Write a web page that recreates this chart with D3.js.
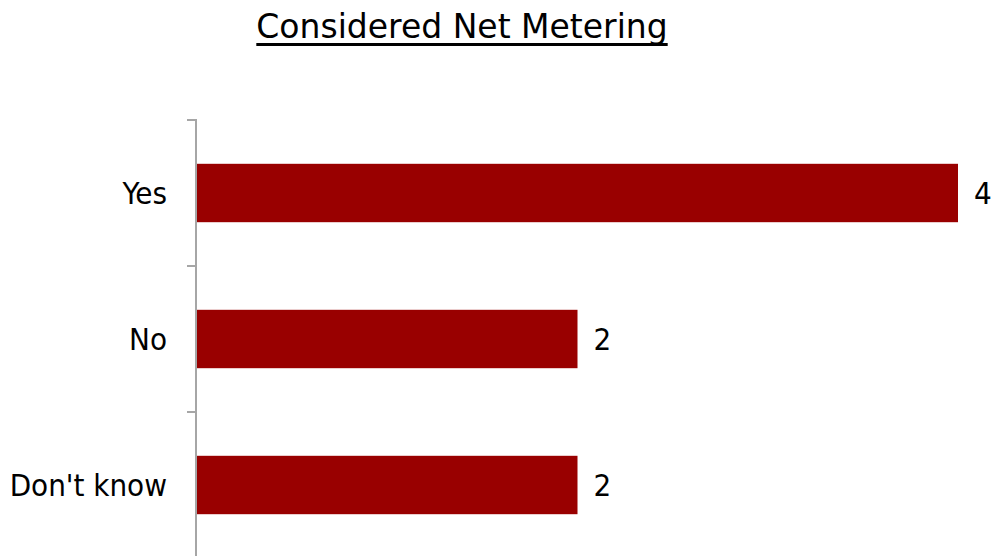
<!DOCTYPE html>
<html><head><meta charset="utf-8">
<script src="https://cdn.jsdelivr.net/npm/d3@7"></script>
<style>body{margin:0;background:#fff}svg{display:block}</style>
</head><body>
<svg id="c" width="993" height="556"></svg>
<script>
const categories = ["Yes", "No", "Don't know"];
const values = [4, 2, 2];
const title = "Considered Net Metering";

const W = 993, H = 556;
const FONT = "'DejaVu Sans Condensed', 'DejaVu Sans', sans-serif";
const TFONT = "'DejaVu Sans', sans-serif";
const svg = d3.select("#c");

const x = d3.scaleLinear().domain([0, 4]).range([197, 958]);
const y = d3.scaleBand().domain(categories).range([120, 558]).paddingInner(0.6).paddingOuter(0.3);

// title
const t = svg.append("text").attr("x", 462).attr("y", 38).attr("text-anchor", "middle")
  .attr("font-family", TFONT).attr("font-size", 33).attr("fill", "#000").text(title);
const bb = t.node().getBBox();
svg.append("rect").attr("x", bb.x).attr("y", 43).attr("width", bb.width).attr("height", 3).attr("fill", "#000");

// bars
svg.selectAll("rect.bar").data(values).join("rect").attr("class", "bar")
  .attr("x", x(0)).attr("y", (d, i) => y(categories[i]))
  .attr("width", d => x(d) - x(0)).attr("height", y.bandwidth())
  .attr("fill", "#990000");

// axis line and ticks at category boundaries
const step = y.step();
const bounds = d3.range(categories.length + 1).map(i => 120 + i * step);
svg.append("line").attr("x1", 196).attr("x2", 196).attr("y1", 119).attr("y2", H)
  .attr("stroke", "#a6a6a6").attr("stroke-width", 2);
svg.selectAll("line.tick").data(bounds).join("line").attr("class", "tick")
  .attr("x1", 187).attr("x2", 196).attr("y1", d => d).attr("y2", d => d)
  .attr("stroke", "#a6a6a6").attr("stroke-width", 2);

// category labels
svg.selectAll("text.cat").data(categories).join("text").attr("class", "cat")
  .attr("x", 167).attr("y", d => y(d) + y.bandwidth() / 2).attr("dy", "0.35em")
  .attr("text-anchor", "end").attr("font-family", FONT).attr("font-size", 31).attr("fill", "#000")
  .text(d => d);

// value labels
svg.selectAll("text.val").data(values).join("text").attr("class", "val")
  .attr("x", d => x(d) + 16).attr("y", (d, i) => y(categories[i]) + y.bandwidth() / 2).attr("dy", "0.35em")
  .attr("font-family", FONT).attr("font-size", 31).attr("fill", "#000")
  .text(d => d);
</script>
</body></html>
